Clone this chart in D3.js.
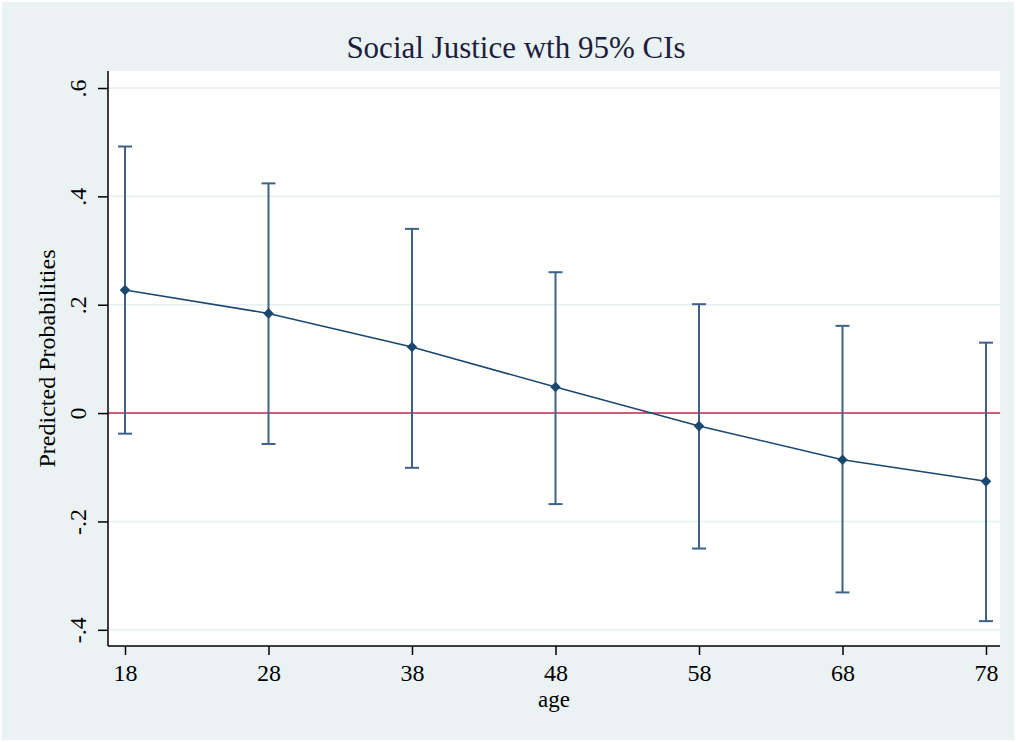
<!DOCTYPE html>
<html>

<head>
    <script src="https://d3js.org/d3.v7.min.js"></script>
    <style>
        body { margin: 0; background: #ffffff; }
        text { font-family: "Liberation Serif", "Times New Roman", serif; fill: #000; }
    </style>
    <script>
        const w = 1016
        const h = 742
        // values
        const ages = [18, 28, 38, 48, 58, 68, 78]
        const predicted = [0.227, 0.184, 0.122, 0.048, -0.024, -0.086, -0.126]
        const ciLow = [-0.038, -0.057, -0.101, -0.168, -0.250, -0.331, -0.384]
        const ciHigh = [0.492, 0.424, 0.340, 0.260, 0.201, 0.161, 0.130]
        const yTicks = [-0.4, -0.2, 0, 0.2, 0.4, 0.6]
        const yTickLabels = ["-.4", "-.2", "0", ".2", ".4", ".6"]
        const xTicks = [18, 28, 38, 48, 58, 68, 78]
        const plot = { left: 108, top: 71, right: 1000, bottom: 646 }
        const navy = "#1a476f"

        function doSVG() {
            const svg = d3.select("body").append("svg")
                .attr("width", w)
                .attr("height", h)

            // outer graph region
            svg.append("rect")
                .attr("x", 2).attr("y", 2)
                .attr("width", w - 4).attr("height", h - 4)
                .attr("fill", "#eaf2f3")
            svg.append("rect")
                .attr("x", plot.left).attr("y", plot.top)
                .attr("width", plot.right - plot.left).attr("height", plot.bottom - plot.top)
                .attr("fill", "#ffffff")

            const x = d3.scaleLinear().domain([16.815, 78.976]).range([plot.left, plot.right])
            const y = d3.scaleLinear().domain([-0.4299, 0.6314]).range([plot.bottom, plot.top])

            // grid lines
            svg.selectAll(".grid")
                .data(yTicks.filter(d => d !== 0))
                .enter().append("line")
                .attr("x1", plot.left).attr("x2", plot.right)
                .attr("y1", d => y(d)).attr("y2", d => y(d))
                .attr("stroke", "#e6eff1").attr("stroke-width", 1.5)

            // reference line at zero
            svg.append("line")
                .attr("x1", plot.left).attr("x2", plot.right)
                .attr("y1", y(0)).attr("y2", y(0))
                .attr("stroke", "#c8234b").attr("stroke-width", 1.5)

            // confidence intervals
            const ci = svg.selectAll(".ci")
                .data(ages)
                .enter().append("g")
            ci.append("line")
                .attr("x1", d => x(d)).attr("x2", d => x(d))
                .attr("y1", (d, i) => y(ciLow[i])).attr("y2", (d, i) => y(ciHigh[i]))
            ci.append("line")
                .attr("x1", d => x(d) - 7).attr("x2", d => x(d) + 7)
                .attr("y1", (d, i) => y(ciLow[i])).attr("y2", (d, i) => y(ciLow[i]))
            ci.append("line")
                .attr("x1", d => x(d) - 7).attr("x2", d => x(d) + 7)
                .attr("y1", (d, i) => y(ciHigh[i])).attr("y2", (d, i) => y(ciHigh[i]))
            ci.selectAll("line").attr("stroke", "#3e6287").attr("stroke-width", 2)

            // predicted line and markers
            svg.append("path")
                .datum(ages)
                .attr("fill", "none")
                .attr("stroke", navy)
                .attr("stroke-width", 1.5)
                .attr("d", d3.line().x(d => x(d)).y((d, i) => y(predicted[i])))
            svg.selectAll(".pt")
                .data(ages)
                .enter().append("path")
                .attr("d", d3.symbol(d3.symbolSquare, 56))
                .attr("fill", navy)
                .attr("transform", (d, i) => `translate(${x(d)},${y(predicted[i])}) rotate(45)`)

            // axes
            const yAxis = svg.append("g")
                .attr("transform", `translate(${plot.left},0)`)
                .call(d3.axisLeft(y).tickValues(yTicks).tickSize(10).tickFormat((d, i) => yTickLabels[i]))
            yAxis.select(".domain").attr("d", `M0,${plot.top}V${plot.bottom}`).attr("stroke", "#000").attr("stroke-width", 1.5)
            yAxis.selectAll(".tick line").attr("stroke", "#000").attr("stroke-width", 1.5)
            yAxis.selectAll(".tick text")
                .attr("x", null).attr("dy", null)
                .attr("transform", "translate(-22,0) rotate(-90)")
                .attr("text-anchor", "middle")
                .style("font-family", "Liberation Serif")
                .style("font-size", "24px")

            const xAxis = svg.append("g")
                .attr("transform", `translate(0,${plot.bottom})`)
                .call(d3.axisBottom(x).tickValues(xTicks).tickSize(9).tickFormat(d3.format("d")))
            xAxis.select(".domain").attr("d", `M${plot.left},0H${plot.right}`).attr("stroke", "#000").attr("stroke-width", 1.5)
            xAxis.selectAll(".tick line").attr("stroke", "#000").attr("stroke-width", 1.5)
            xAxis.selectAll(".tick text")
                .attr("y", 35).attr("dy", null)
                .style("font-family", "Liberation Serif")
                .style("font-size", "24px")

            // titles
            svg.append("text")
                .attr("x", 516).attr("y", 58)
                .attr("text-anchor", "middle")
                .style("font-size", "31px")
                .style("fill", "#1e1e3c")
                .text("Social Justice wth 95% CIs")
            svg.append("text")
                .attr("transform", `translate(55,${(plot.top + plot.bottom) / 2}) rotate(-90)`)
                .attr("text-anchor", "middle")
                .style("font-size", "24px")
                .text("Predicted Probabilities")
            svg.append("text")
                .attr("x", (plot.left + plot.right) / 2).attr("y", 707)
                .attr("text-anchor", "middle")
                .style("font-size", "23px")
                .text("age")
        }
    </script>
</head>

<body onload="doSVG()">
</body>

</html>
